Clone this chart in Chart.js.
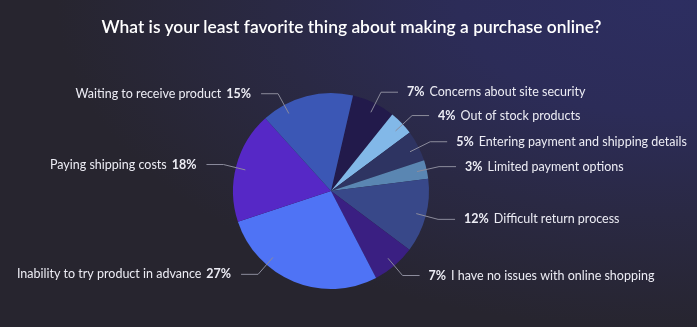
<!DOCTYPE html>
<html>
<head>
<meta charset="utf-8">
<script src="https://cdn.jsdelivr.net/npm/chart.js@4.4.1/dist/chart.umd.min.js"></script>
<style>
    html, body {
        margin: 0;
        padding: 0;
    }
    body {
        width: 697px;
        height: 327px;
        overflow: hidden;
        background: radial-gradient(ellipse 620px 330px at 97% 0%, #2d2e61 0%, #2c2c58 35%, #2a2944 65%, #27252f 100%);
    }
    #wrap {
        position: relative;
        width: 697px;
        height: 327px;
    }
    #title {
        position: absolute;
        left: 0;
        top: 15px;
        width: 703px;
        margin: 0;
        text-align: center;
        font: 600 17.4px Lato, "Open Sans", sans-serif;
        line-height: 24px;
        color: #ffffff;
    }
</style>
</head>
<body>
<div id="wrap">
    <canvas id="surveyPie" width="697" height="327"></canvas>
    <h1 id="title">What is your least favorite thing about making a purchase online?</h1>
</div>
<script>
// Survey answers, clockwise from the top of the pie
const answers = [
    'Concerns about site security',
    'Out of stock products',
    'Entering payment and shipping details',
    'Limited payment options',
    'Difficult return process',
    'I have no issues with online shopping',
    'Inability to try product in advance',
    'Paying shipping costs',
    'Waiting to receive product'
];
const shares = [7, 4, 5, 3, 12, 7, 27, 18, 15];
const sliceColors = [
    '#221a4b', '#82b8e8', '#2e3462', '#5a86b2', '#384889',
    '#3a1f82', '#4f73f5', '#5628c6', '#3b57b5'
];

// Small angle tweaks (degrees) for the leader lines that are not on the slice middle
const leaderNudge = [1, 1, 1, 0, 0, 0, 19, -1, -14];

const textColor = '#ececf4';
const leaderColor = '#8c8c9c';
const labelFont = 'Lato, "Open Sans", sans-serif';

// Draws leader lines and "xx% label" texts next to each slice
const calloutPlugin = {
    id: 'callouts',
    afterDatasetsDraw(chart) {
        const ctx = chart.ctx;
        const meta = chart.getDatasetMeta(0);
        ctx.save();
        meta.data.forEach((arc, i) => {
            const r = arc.outerRadius;
            const mid = (arc.startAngle + arc.endAngle) / 2 + leaderNudge[i] * Math.PI / 180;
            const cos = Math.cos(mid);
            const sin = Math.sin(mid);
            const x0 = arc.x + cos * r * 0.9;
            const y0 = arc.y + sin * r * 0.9;
            const x1 = arc.x + cos * r * 1.13;
            const y1 = arc.y + sin * r * 1.13;
            const right = cos >= 0;
            const x2 = x1 + (right ? 17 : -17);

            ctx.strokeStyle = leaderColor;
            ctx.lineWidth = 1;
            ctx.beginPath();
            ctx.moveTo(x0, y0);
            ctx.lineTo(x1, y1);
            ctx.lineTo(x2, y1);
            ctx.stroke();

            const pct = shares[i] + '%';
            const boldFont = 'bold 12.5px ' + labelFont;
            const normalFont = '12.5px ' + labelFont;
            ctx.fillStyle = textColor;
            ctx.textBaseline = 'middle';
            if (right) {
                let x = x2 + 9;
                ctx.textAlign = 'left';
                ctx.font = boldFont;
                ctx.fillText(pct, x, y1);
                x += ctx.measureText(pct).width + 5;
                ctx.font = normalFont;
                ctx.fillText(answers[i], x, y1);
            } else {
                let x = x2 - 10;
                ctx.textAlign = 'right';
                ctx.font = boldFont;
                ctx.fillText(pct, x, y1);
                x -= ctx.measureText(pct).width + 5;
                ctx.font = normalFont;
                ctx.fillText(answers[i], x, y1);
            }
        });
        ctx.restore();
    }
};

const surveyChart = new Chart(document.getElementById('surveyPie'), {
    type: 'pie',
    data: {
        labels: answers,
        datasets: [{
            data: shares,
            backgroundColor: sliceColors,
            borderWidth: 0
        }]
    },
    options: {
        responsive: false,
        animation: false,
        rotation: 13,
        layout: {
            padding: { left: 233, right: 268, top: 93, bottom: 38 }
        },
        plugins: {
            legend: { display: false },
            tooltip: { enabled: false },
            title: { display: false }
        }
    },
    plugins: [calloutPlugin]
});
</script>
</body>
</html>
